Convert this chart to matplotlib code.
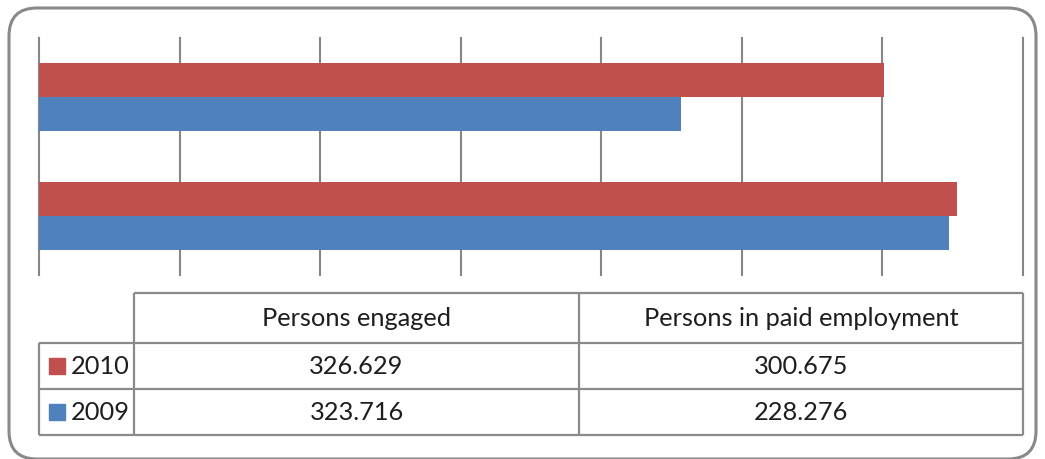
import matplotlib
matplotlib.use("Agg")
import numpy as np
from matplotlib import pyplot as plt
from matplotlib.patches import FancyBboxPatch, Rectangle

# data
categories = ["Persons engaged", "Persons in paid employment"]
years = ["2010", "2009"]
values_2010 = [326.629, 300.675]
values_2009 = [323.716, 228.276]
colors = {"2010": "#C0504D", "2009": "#4F81BD"}

W, H = 1045, 460
grid_col = "#868686"
text_col = "#1e1e1e"
font = "Lato"
fs = 18.3

fig = plt.figure(figsize=(W / 100, H / 100), dpi=100)

# background layer in pixel coords: rounded frame + data table
bg = fig.add_axes([0, 0, 1, 1])
bg.set_xlim(0, W)
bg.set_ylim(H, 0)
bg.axis("off")
bg.add_patch(FancyBboxPatch((9, 9), W - 18, H - 9, boxstyle="round,pad=0,rounding_size=28",
                            fc="white", ec="#898989", lw=2.2, clip_on=False))

# bar plot area
ax = fig.add_axes([39 / W, (H - 276) / H, (1023 - 39) / W, (276 - 39) / H])
ax.patch.set_visible(False)
y = np.arange(len(categories))
h = 0.288
ax.barh(y + h / 2, values_2010, height=h, color=colors["2010"], zorder=3)
ax.barh(y - h / 2, values_2009, height=h, color=colors["2009"], zorder=3)
ax.set_xlim(0, 350)
ax.set_ylim(-0.5, len(categories) - 0.5)
ax.set_xticks(np.arange(0, 351, 50))
ax.set_yticks([])
ax.tick_params(length=0, labelbottom=False)
ax.grid(axis="x", color=grid_col, lw=1.5)
for ln in ax.get_xgridlines():
    ln.set_clip_on(False)
for s in ax.spines.values():
    s.set_visible(False)

# data table
x0, xl, x1, x2 = 39, 134, 579, 1023
yh, yr1, yr2, yb = 294, 344, 390, 436
lk = dict(color="#8a8a8a", lw=1.6)
bg.hlines(yh, xl, x2, **lk)
bg.hlines([yr1, yr2, yb], x0, x2, **lk)
bg.vlines(x0, yr1, yb, **lk)
bg.vlines([xl, x1, x2], yh, yb, **lk)

col_x = [(xl + x1) / 2, (x1 + x2) / 2]
for cx, cat in zip(col_x, categories):
    bg.text(cx, (yh + yr1) / 2, cat, ha="center", va="center", fontsize=fs, family=font, color=text_col)
rows = [(years[0], values_2010, (yr1 + yr2) / 2), (years[1], values_2009, (yr2 + yb) / 2)]
for yr, vals, cy in rows:
    bg.add_patch(Rectangle((49, cy - 8), 16, 16, color=colors[yr]))
    bg.text(71, cy, yr, ha="left", va="center", fontsize=fs, family=font, color=text_col)
    for cx, v in zip(col_x, vals):
        bg.text(cx, cy, f"{v:.3f}", ha="center", va="center", fontsize=fs, family=font, color=text_col)

fig.savefig("out.png", dpi=100)
